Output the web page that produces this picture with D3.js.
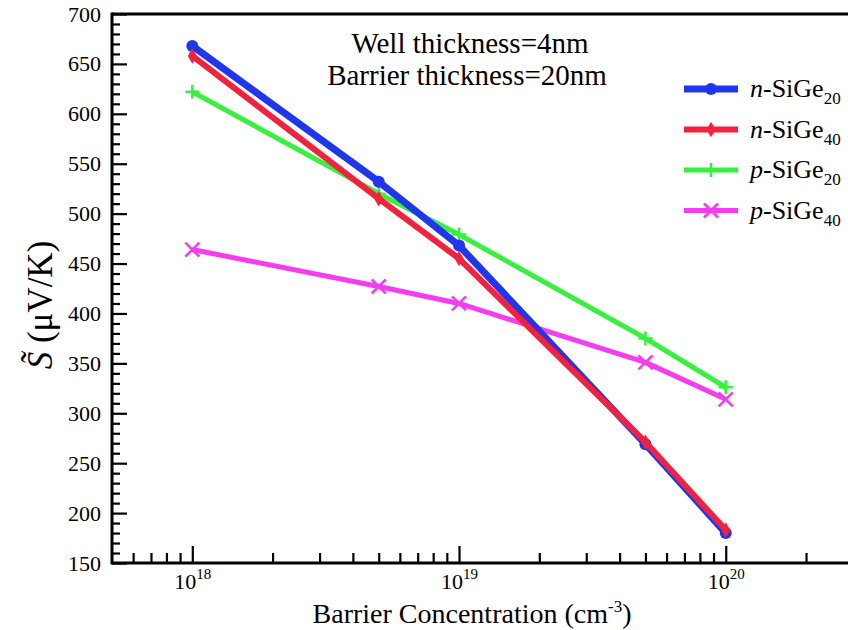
<!DOCTYPE html>
<html>
<head>
<meta charset="utf-8">
<script src="https://cdn.jsdelivr.net/npm/d3@7"></script>
<style>
  body { margin: 0; background: #fff; }
  svg text { font-family: "Liberation Serif", "Times New Roman", Times, "DejaVu Serif", serif; }
</style>
</head>
<body>
<div id="graf"></div>
<script>
// datos
concentraciones = [1e18, 5e18, 1e19, 5e19, 1e20]
nSiGe20 = [668, 532, 468, 269, 180]
nSiGe40 = [658, 515, 455, 271, 183]
pSiGe20 = [622, 520, 479, 375, 326]
pSiGe40 = [464, 427, 410, 351, 314]

series = [
  { nombre: 'n', sub: '20', valores: nSiGe20, color: '#1e36f0', marca: 'circle', ancho: 7 },
  { nombre: 'n', sub: '40', valores: nSiGe40, color: '#f5203c', marca: 'diamond', ancho: 6 },
  { nombre: 'p', sub: '20', valores: pSiGe20, color: '#36f23c', marca: 'plus', ancho: 5 },
  { nombre: 'p', sub: '40', valores: pSiGe40, color: '#f53cf0', marca: 'cross', ancho: 5 }
]

yMayores = d3.range(150, 701, 50)
yMenores = d3.range(150, 701, 10).filter(d => d % 50 != 0)
xMayores = [1e18, 1e19, 1e20]
xMenores = [6e17, 7e17, 8e17, 9e17, 2e18, 3e18, 4e18, 5e18, 6e18, 7e18, 8e18, 9e18,
            2e19, 3e19, 4e19, 5e19, 6e19, 7e19, 8e19, 9e19, 2e20, 3e20]

// configuración
ancho_total = 848
alto_total = 630
svg = d3.select('#graf').append('svg')
        .attr('width', ancho_total)
        .attr('height', alto_total)

x = d3.scaleLog().domain([5e17, 3e20]).range([112, 853])
y = d3.scaleLinear().domain([150, 700]).range([563, 14])

// ejes
yMinor = svg.append('g').attr('transform', 'translate(112,0)')
  .call(d3.axisLeft(y).tickValues(yMenores).tickSize(-8).tickFormat(''))
yMajor = svg.append('g').attr('transform', 'translate(112,0)')
  .call(d3.axisLeft(y).tickValues(yMayores).tickSize(-15).tickPadding(11).tickFormat(d => d))
xMinor = svg.append('g').attr('transform', 'translate(0,563)')
  .call(d3.axisBottom(x).tickValues(xMenores).tickSize(-10).tickFormat(''))
xMajor = svg.append('g').attr('transform', 'translate(0,563)')
  .call(d3.axisBottom(x).tickValues(xMayores).tickSize(-17).tickFormat(''))

svg.selectAll('g').attr('font-family', null)
svg.selectAll('.domain').remove()
svg.selectAll('.tick line').attr('stroke', '#000').attr('stroke-width', 2.2)
yMajor.selectAll('text')
  .attr('font-size', 22)
  .attr('fill', '#000')

// etiquetas de potencias de 10
xMajor.selectAll('.tick').each(function(d) {
  t = d3.select(this).append('text')
        .attr('y', 26)
        .attr('text-anchor', 'middle')
        .attr('fill', '#000')
  t.append('tspan').attr('font-size', 22).text('10')
  t.append('tspan').attr('font-size', 15).attr('dy', -10)
    .text(Math.round(Math.log10(d)))
})

// marco
svg.append('line').attr('x1', 112).attr('x2', 848).attr('y1', 14).attr('y2', 14)
  .attr('stroke', '#000').attr('stroke-width', 3)
svg.append('line').attr('x1', 112).attr('x2', 848).attr('y1', 563).attr('y2', 563)
  .attr('stroke', '#000').attr('stroke-width', 3)
svg.append('line').attr('x1', 112).attr('x2', 112).attr('y1', 12.5).attr('y2', 564.5)
  .attr('stroke', '#000').attr('stroke-width', 3)

// marcadores
function dibujarMarca(g, tipo, color, cx, cy) {
  if (tipo == 'circle') {
    g.append('circle').attr('cx', cx).attr('cy', cy).attr('r', 6).attr('fill', color)
  } else if (tipo == 'diamond') {
    g.append('path').attr('d', d3.symbol(d3.symbolDiamond, 70)())
      .attr('transform', `translate(${cx},${cy})`).attr('fill', color)
  } else if (tipo == 'plus') {
    g.append('path').attr('d', `M${cx - 7},${cy}H${cx + 7}M${cx},${cy - 7}V${cy + 7}`)
      .attr('stroke', color).attr('stroke-width', 2.5)
  } else {
    g.append('path').attr('d', `M${cx - 7},${cy - 7}L${cx + 7},${cy + 7}M${cx - 7},${cy + 7}L${cx + 7},${cy - 7}`)
      .attr('stroke', color).attr('stroke-width', 2.5)
  }
}

linea = d3.line().x(d => x(d[0])).y(d => y(d[1]))

// curvas: magenta, verde, azul, rojo (rojo encima)
orden = [3, 2, 0, 1]
orden.forEach(k => {
  s = series[k]
  g = svg.append('g')
  puntos = concentraciones.map((c, i) => [c, s.valores[i]])
  g.append('path').datum(puntos)
    .attr('d', linea)
    .attr('fill', 'none')
    .attr('stroke', s.color)
    .attr('stroke-width', s.ancho)
    .attr('stroke-linejoin', 'round')
  puntos.forEach(p => dibujarMarca(g, s.marca, s.color, x(p[0]), y(p[1])))
})

// leyenda
series.forEach((s, i) => {
  yy = 89 + i * 40.5
  g = svg.append('g')
  g.append('line').attr('x1', 684).attr('x2', 738).attr('y1', yy).attr('y2', yy)
    .attr('stroke', s.color).attr('stroke-width', s.ancho)
  dibujarMarca(g, s.marca, s.color, 711, yy)
  t = g.append('text').attr('x', 750).attr('y', yy + 8)
        .attr('font-size', 26).attr('fill', '#000')
  t.append('tspan').attr('font-style', 'italic').text(s.nombre)
  t.append('tspan').text('-SiGe')
  t.append('tspan').attr('font-size', 17).attr('dy', 7).text(s.sub)
})

// anotación
svg.append('text').attr('x', 470).attr('y', 53).attr('text-anchor', 'middle')
  .attr('font-size', 29).attr('fill', '#000').text('Well thickness=4nm')
svg.append('text').attr('x', 467).attr('y', 85).attr('text-anchor', 'middle')
  .attr('font-size', 29).attr('fill', '#000').text('Barrier thickness=20nm')

// títulos de ejes
tx = svg.append('text').attr('x', 472).attr('y', 623).attr('text-anchor', 'middle')
  .attr('font-size', 28).attr('fill', '#000')
tx.append('tspan').text('Barrier Concentration (cm')
tx.append('tspan').attr('font-size', 17).attr('dy', -11).text('-3')
tx.append('tspan').attr('dy', 11).text(')')

ty = svg.append('text').attr('transform', 'translate(52,305) rotate(-90)')
  .attr('text-anchor', 'middle').attr('font-size', 35).attr('fill', '#000')
ty.append('tspan').attr('font-style', 'italic').text('S\u0303')
ty.append('tspan').text(' (\u03bcV/K)')
</script>
</body>
</html>
